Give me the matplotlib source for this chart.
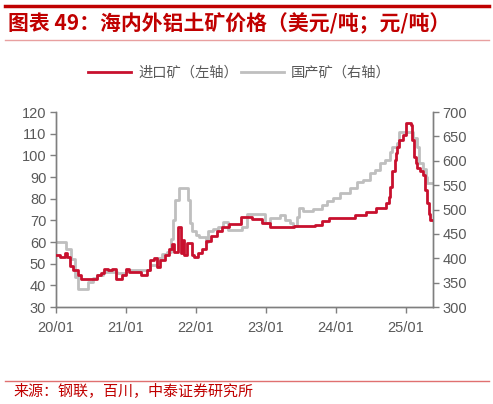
import matplotlib.pyplot as plt
from matplotlib.lines import Line2D

plt.rcParams['font.family'] = ['Noto Sans CJK SC', 'DejaVu Sans']

# 进口矿（美元/吨，左轴）
imp_t = [2020.00, 2020.06, 2020.13, 2020.16, 2020.20, 2020.24, 2020.32, 2020.36, 2020.59, 2020.64,
         2020.69, 2020.75, 2020.80, 2020.86, 2020.94, 2021.00, 2021.05, 2021.22, 2021.30, 2021.34,
         2021.40, 2021.44, 2021.48, 2021.56, 2021.62, 2021.66, 2021.68, 2021.74, 2021.79, 2021.81,
         2021.83, 2021.87, 2021.94, 2021.98, 2022.03, 2022.09, 2022.15, 2022.22, 2022.30, 2022.38,
         2022.48, 2022.64, 2022.80, 2022.94, 2023.06, 2023.40, 2023.70, 2023.80, 2023.90, 2024.28,
         2024.43, 2024.58, 2024.72, 2024.76, 2024.78, 2024.81, 2024.84, 2024.86, 2024.88, 2024.91,
         2024.96, 2025.01, 2025.07, 2025.09, 2025.12, 2025.14, 2025.16, 2025.21, 2025.24, 2025.28,
         2025.30, 2025.33, 2025.35, 2025.37]
imp_v = [54, 53, 55, 53, 49, 47, 45, 43, 45, 45.5,
         47.5, 47, 47.5, 43, 45, 47.5, 46, 45, 47, 51.5,
         52.5, 48.6, 51.5, 54, 57, 59, 55.5, 67, 55, 61,
         54, 59.5, 54, 53, 55, 57, 60.5, 63, 65, 67,
         68.5, 71.5, 70.5, 68.7, 67, 67.5, 68, 69.5, 71, 72.5,
         74, 75.5, 77.8, 81, 85.5, 93, 98, 101, 104, 107,
         109.4, 114.8, 114, 107, 99.4, 96.3, 94, 93, 91, 84,
         78, 73, 70.2, 70.2]

# 国产矿（元/吨，右轴）
dom_t = [2020.00, 2020.15, 2020.22, 2020.27, 2020.31, 2020.46, 2020.53, 2020.59, 2020.67, 2020.87,
         2021.00, 2021.34, 2021.44, 2021.52, 2021.58, 2021.64, 2021.67, 2021.70, 2021.76, 2021.89,
         2021.91, 2021.94, 2022.00, 2022.05, 2022.14, 2022.17, 2022.24, 2022.32, 2022.39, 2022.46,
         2022.66, 2022.73, 2022.99, 2023.06, 2023.20, 2023.28, 2023.34, 2023.39, 2023.44, 2023.48,
         2023.53, 2023.67, 2023.80, 2023.87, 2023.96, 2024.06, 2024.20, 2024.30, 2024.39, 2024.49,
         2024.56, 2024.63, 2024.70, 2024.77, 2024.81, 2024.87, 2024.91, 2025.10, 2025.16, 2025.19,
         2025.24, 2025.29, 2025.31, 2025.37]
dom_v = [434, 420, 398, 362, 338, 352, 359, 365, 371, 369,
         375, 386, 400, 408, 413, 440, 478, 520, 544, 520,
         472, 456, 447, 444, 434, 455, 460, 464, 475, 458,
         464, 491, 472, 482, 489, 478, 472, 467, 485, 504,
         498, 502, 510, 518, 523, 533, 544, 557, 560, 574,
         581, 595, 601, 619, 629, 636, 660, 647, 629, 595,
         584, 567, 555, 555]

xtick_pos = [2020, 2021, 2022, 2023, 2024, 2025]
xtick_lab = ['20/01', '21/01', '22/01', '23/01', '24/01', '25/01']

red = '#C8102E'
gray = '#BFBFBF'
axcol = '#7F7F7F'
txtcol = '#595959'
num_font = 'Liberation Sans'

fig = plt.figure(figsize=(4.93, 4.04), dpi=100)
ax = fig.add_axes([0.1136, 0.240, 0.7647, 0.4827])
ax2 = ax.twinx()

l1, = ax.step(imp_t, imp_v, where='post', color=red, lw=2.0, zorder=3)
l2, = ax2.step(dom_t, dom_v, where='post', color=gray, lw=2.0)
ax.set_zorder(ax2.get_zorder() + 1)
ax.patch.set_visible(False)

ax.set_xlim(2020.0, 2025.39)
ax.set_ylim(30, 120)
ax.set_yticks(range(30, 121, 10))
ax2.set_ylim(300, 700)
ax2.set_yticks(range(300, 701, 50))
ax.set_xticks(xtick_pos)
ax.set_xticklabels(xtick_lab)

for a in (ax, ax2):
    a.spines['top'].set_visible(False)
    for s in ('left', 'right', 'bottom'):
        a.spines[s].set_color(axcol)
        a.spines[s].set_linewidth(1.0)
    a.tick_params(colors=axcol, labelcolor=txtcol, length=4, width=1, labelsize=10.5)
    for lab in a.get_xticklabels() + a.get_yticklabels():
        lab.set_family(num_font)
ax.tick_params(axis='y', pad=3)
ax.tick_params(axis='x', pad=6)
ax2.tick_params(axis='y', pad=3)

leg = fig.legend([l1, l2], ['进口矿（左轴）', '国产矿（右轴）'], loc='center',
                 bbox_to_anchor=(239.5 / 493, 1 - 73 / 404), ncol=2, frameon=False,
                 fontsize=10.3, handlelength=3.0, handletextpad=0.5, columnspacing=0.2)
for t in leg.get_texts():
    t.set_color(txtcol)

# 标题和来源
fig.add_artist(Line2D([5 / 493, 489 / 493], [1 - 6 / 404, 1 - 6 / 404], color='#C00000', lw=2.5))
fig.text(8 / 493, 1 - 23 / 404, '图表 49：海内外铝土矿价格（美元/吨；元/吨）', color='#C00000',
         fontsize=15, fontweight='bold', fontstyle='italic', va='center', ha='left')
fig.add_artist(Line2D([5 / 493, 489 / 493], [1 - 40 / 404, 1 - 40 / 404], color='#E8A0A0', lw=1.0))
fig.add_artist(Line2D([5 / 493, 489 / 493], [1 - 381 / 404, 1 - 381 / 404], color='#E07070', lw=1.0))
fig.text(13 / 493, 1 - 391 / 404, '来源：钢联，百川，中泰证券研究所', color='#C00000',
         fontsize=10.8, va='center', ha='left')

fig.savefig('out.png', dpi=100)
